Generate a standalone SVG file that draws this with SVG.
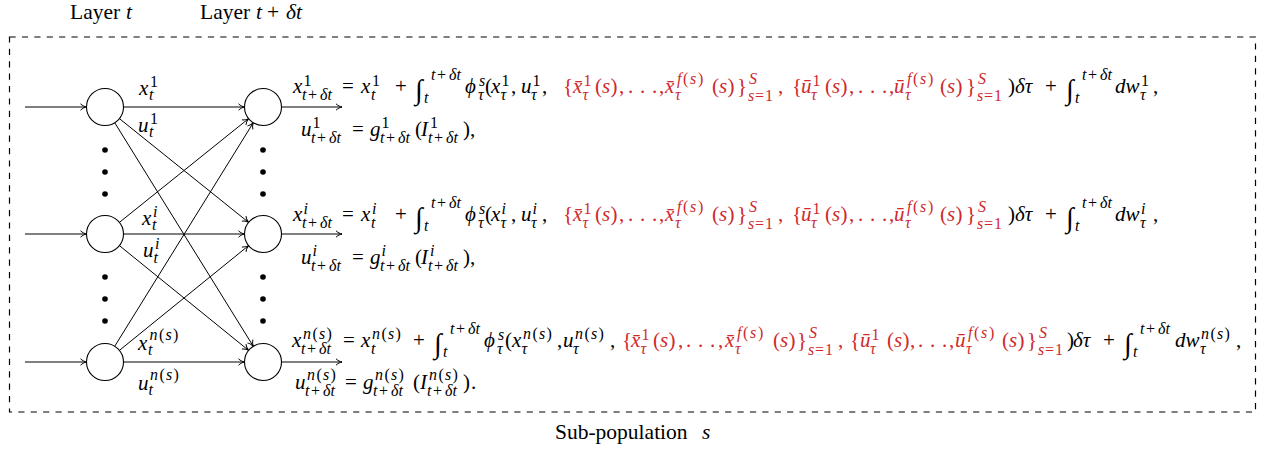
<svg xmlns="http://www.w3.org/2000/svg" width="1265" height="451" viewBox="0 0 1265 451">
<style>
text{font-family:'Liberation Serif','DejaVu Serif',serif;fill:#000}
.eq{font-size:21px}
.s{font-size:16px}
.i{font-style:italic}
.r{fill:#d0282c}
.int{font-size:28px}
.lbl{font-size:21.5px}
.ln{fill:none;stroke:#000;stroke-width:1}
.nd{fill:#fff;stroke:#000;stroke-width:1.1}
.dot{fill:#000}
.box{fill:none;stroke:#000;stroke-width:1.2;stroke-dasharray:6.2 6.2}
</style>
<defs>
<marker id="ar" markerUnits="userSpaceOnUse" viewBox="-8 -5 10 10" refX="0" refY="0" markerWidth="10" markerHeight="10" orient="auto" overflow="visible">
<path d="M-6,-3.2 C-4,-1.2 -1.5,-0.3 0,0 C-1.5,0.3 -4,1.2 -6,3.2" fill="none" stroke="#000" stroke-width="1"/>
</marker>
</defs>
<rect width="1265" height="451" fill="#fff"/>

<g id="layer-labels">
<text class="lbl" x="70" y="19">Layer <tspan class="i" x="126">t</tspan></text>
<text class="lbl" x="200" y="19">Layer <tspan class="i" x="256">t</tspan><tspan x="267">+</tspan><tspan class="i" x="286">δt</tspan></text>
</g>

<g id="subpopulation-box">
<rect class="box" x="9.5" y="37" width="1246" height="375"/>
<text class="lbl" x="555" y="439">Sub-population <tspan class="i" x="702">s</tspan></text>
</g>

<g id="connectors">
<line class="ln" x1="25" y1="107" x2="86.5" y2="107" marker-end="url(#ar)"/>
<line class="ln" x1="25" y1="234" x2="86.5" y2="234" marker-end="url(#ar)"/>
<line class="ln" x1="25" y1="362" x2="86.5" y2="362" marker-end="url(#ar)"/>
<line class="ln" x1="123.5" y1="107" x2="244.5" y2="107" marker-end="url(#ar)"/>
<line class="ln" x1="123.5" y1="234" x2="244.5" y2="234" marker-end="url(#ar)"/>
<line class="ln" x1="123.5" y1="362" x2="244.5" y2="362" marker-end="url(#ar)"/>
<line class="ln" x1="119.4" y1="118.6" x2="248.6" y2="222.4" marker-end="url(#ar)"/>
<line class="ln" x1="114.7" y1="122.7" x2="253.3" y2="346.3" marker-end="url(#ar)"/>
<line class="ln" x1="119.4" y1="222.4" x2="248.6" y2="118.6" marker-end="url(#ar)"/>
<line class="ln" x1="119.4" y1="245.6" x2="248.6" y2="350.4" marker-end="url(#ar)"/>
<line class="ln" x1="114.7" y1="346.3" x2="253.3" y2="122.7" marker-end="url(#ar)"/>
<line class="ln" x1="119.4" y1="350.4" x2="248.6" y2="245.6" marker-end="url(#ar)"/>
<line class="ln" x1="281.5" y1="107" x2="342" y2="107" marker-end="url(#ar)"/>
<line class="ln" x1="281.5" y1="234" x2="342" y2="234" marker-end="url(#ar)"/>
<line class="ln" x1="281.5" y1="362" x2="342" y2="362" marker-end="url(#ar)"/>
</g>

<g id="node-L1"><circle class="nd" cx="105" cy="107" r="18.5"/></g>
<g id="node-Li"><circle class="nd" cx="105" cy="234" r="18.5"/></g>
<g id="node-Ln"><circle class="nd" cx="105" cy="362" r="18.5"/></g>
<g id="node-R1"><circle class="nd" cx="263" cy="107" r="18.5"/></g>
<g id="node-Ri"><circle class="nd" cx="263" cy="234" r="18.5"/></g>
<g id="node-Rn"><circle class="nd" cx="263" cy="362" r="18.5"/></g>

<g id="dots">
<circle class="dot" cx="105" cy="150" r="2.8"/><circle class="dot" cx="105" cy="172" r="2.8"/><circle class="dot" cx="105" cy="194" r="2.8"/>
<circle class="dot" cx="105" cy="277" r="2.8"/><circle class="dot" cx="105" cy="299" r="2.8"/><circle class="dot" cx="105" cy="321" r="2.8"/>
<circle class="dot" cx="263" cy="150" r="2.8"/><circle class="dot" cx="263" cy="172" r="2.8"/><circle class="dot" cx="263" cy="194" r="2.8"/>
<circle class="dot" cx="263" cy="277" r="2.8"/><circle class="dot" cx="263" cy="299" r="2.8"/><circle class="dot" cx="263" cy="321" r="2.8"/>
</g>

<g id="edge-labels">
<text class="eq"><tspan class="i" x="139" y="95">x</tspan><tspan class="s" x="150" y="87">1</tspan><tspan class="s i" x="149" y="100">t</tspan></text>
<text class="eq"><tspan class="i" x="138" y="132">u</tspan><tspan class="s" x="150" y="124">1</tspan><tspan class="s i" x="149" y="137">t</tspan></text>
<text class="eq"><tspan class="i" x="142" y="225">x</tspan><tspan class="s i" x="153" y="217">i</tspan><tspan class="s i" x="152" y="230">t</tspan></text>
<text class="eq"><tspan class="i" x="143" y="257">u</tspan><tspan class="s i" x="155" y="249">i</tspan><tspan class="s i" x="153.5" y="263">t</tspan></text>
<text class="eq"><tspan class="i" x="138" y="350">x</tspan><tspan class="s i" x="149.5" y="340">n</tspan><tspan class="s" x="159" y="340">(</tspan><tspan class="s i" x="165.5" y="340">s</tspan><tspan class="s" x="173" y="340">)</tspan><tspan class="s i" x="148" y="355">t</tspan></text>
<text class="eq"><tspan class="i" x="138" y="390">u</tspan><tspan class="s i" x="150" y="380">n</tspan><tspan class="s" x="159.5" y="380">(</tspan><tspan class="s i" x="166" y="380">s</tspan><tspan class="s" x="173.5" y="380">)</tspan><tspan class="s i" x="148.5" y="395">t</tspan></text>
</g>

<g id="eq-1">
<text class="eq"><tspan class="i" x="293" y="93">x</tspan><tspan class="s" x="303.5" y="86">1</tspan><tspan class="s i" x="302" y="100">t</tspan><tspan class="s" x="308" y="100">+</tspan><tspan class="s i" x="320" y="100">δt</tspan><tspan x="342" y="93">=</tspan><tspan class="i" x="361" y="93">x</tspan><tspan class="s" x="372" y="86">1</tspan><tspan class="s i" x="371" y="100">t</tspan><tspan x="395" y="93">+</tspan><tspan class="int" x="415" y="99">∫</tspan><tspan class="s i" x="431" y="80">t</tspan><tspan class="s" x="437" y="80">+</tspan><tspan class="s i" x="449" y="80">δt</tspan><tspan class="s i" x="424" y="103">t</tspan><tspan class="i" x="465" y="93">ϕ</tspan><tspan class="s i" x="479" y="86">s</tspan><tspan class="s i" x="478" y="100">τ</tspan><tspan x="485" y="93">(</tspan><tspan class="i" x="491" y="93">x</tspan><tspan class="s" x="501.5" y="86">1</tspan><tspan class="s i" x="500.5" y="100">τ</tspan><tspan x="511" y="93">,</tspan><tspan class="i" x="521" y="93">u</tspan><tspan class="s" x="532.5" y="86">1</tspan><tspan class="s i" x="531" y="100">τ</tspan><tspan x="542" y="93">,</tspan><tspan class="r" x="563" y="93">{</tspan><tspan class="r i" x="573" y="93">x̄</tspan><tspan class="r s" x="583.5" y="86">1</tspan><tspan class="r s i" x="582.5" y="100">τ</tspan><tspan class="r" x="595" y="93">(</tspan><tspan class="r i" x="602" y="93">s</tspan><tspan class="r" x="610.5" y="93">)</tspan><tspan class="r" x="619" y="93">,</tspan><tspan class="r" x="628" y="93">.</tspan><tspan class="r" x="640" y="93">.</tspan><tspan class="r" x="652" y="93">.</tspan><tspan class="r" x="659" y="93">,</tspan><tspan class="r i" x="665" y="93">x̄</tspan><tspan class="r s i" x="677" y="84">f</tspan><tspan class="r s" x="683" y="84">(</tspan><tspan class="r s i" x="690" y="84">s</tspan><tspan class="r s" x="698" y="84">)</tspan><tspan class="r s i" x="675" y="100">τ</tspan><tspan class="r" x="712" y="93">(</tspan><tspan class="r i" x="719" y="93">s</tspan><tspan class="r" x="727.5" y="93">)</tspan><tspan class="r" x="737" y="93">}</tspan><tspan class="r s i" x="749" y="84">S</tspan><tspan class="r s i" x="748" y="101">s</tspan><tspan class="r s" x="755" y="101">=</tspan><tspan class="r s" x="765" y="101">1</tspan><tspan class="r" x="778" y="93">,</tspan><tspan class="r" x="792" y="93">{</tspan><tspan class="r i" x="801" y="93">ū</tspan><tspan class="r s" x="812.5" y="86">1</tspan><tspan class="r s i" x="811" y="100">τ</tspan><tspan class="r" x="825" y="93">(</tspan><tspan class="r i" x="832" y="93">s</tspan><tspan class="r" x="840.5" y="93">)</tspan><tspan class="r" x="849" y="93">,</tspan><tspan class="r" x="858" y="93">.</tspan><tspan class="r" x="870" y="93">.</tspan><tspan class="r" x="882" y="93">.</tspan><tspan class="r" x="889" y="93">,</tspan><tspan class="r i" x="894" y="93">ū</tspan><tspan class="r s i" x="907" y="84">f</tspan><tspan class="r s" x="913" y="84">(</tspan><tspan class="r s i" x="920" y="84">s</tspan><tspan class="r s" x="928" y="84">)</tspan><tspan class="r s i" x="905" y="100">τ</tspan><tspan class="r" x="940" y="93">(</tspan><tspan class="r i" x="947" y="93">s</tspan><tspan class="r" x="955.5" y="93">)</tspan><tspan class="r" x="966" y="93">}</tspan><tspan class="r s i" x="978" y="84">S</tspan><tspan class="r s i" x="977" y="101">s</tspan><tspan class="r s" x="984" y="101">=</tspan><tspan class="r s" x="994" y="101">1</tspan><tspan x="1008" y="93">)</tspan><tspan class="i" x="1015" y="93">δτ</tspan><tspan x="1045" y="93">+</tspan><tspan class="int" x="1066" y="99">∫</tspan><tspan class="s i" x="1082" y="80">t</tspan><tspan class="s" x="1088" y="80">+</tspan><tspan class="s i" x="1100" y="80">δt</tspan><tspan class="s i" x="1075" y="103">t</tspan><tspan class="i" x="1115" y="93">dw</tspan><tspan class="s" x="1141" y="86">1</tspan><tspan class="s i" x="1140" y="100">τ</tspan><tspan x="1153" y="93">,</tspan></text>
<text class="eq"><tspan class="i" x="301" y="136">u</tspan><tspan class="s" x="312.5" y="128">1</tspan><tspan class="s i" x="311" y="143">t</tspan><tspan class="s" x="317" y="143">+</tspan><tspan class="s i" x="329" y="143">δt</tspan><tspan x="352" y="136">=</tspan><tspan class="i" x="370" y="136">g</tspan><tspan class="s" x="381.5" y="128">1</tspan><tspan class="s i" x="380" y="143">t</tspan><tspan class="s" x="386" y="143">+</tspan><tspan class="s i" x="398" y="143">δt</tspan><tspan x="415" y="136">(</tspan><tspan class="i" x="421" y="136">I</tspan><tspan class="s" x="430" y="128">1</tspan><tspan class="s i" x="428" y="143">t</tspan><tspan class="s" x="434" y="143">+</tspan><tspan class="s i" x="446" y="143">δt</tspan><tspan x="463" y="136">)</tspan><tspan x="470" y="136">,</tspan></text>
</g>

<g id="eq-i" transform="translate(0,128)">
<text class="eq"><tspan class="i" x="293" y="93">x</tspan><tspan class="s i" x="303.5" y="86">i</tspan><tspan class="s i" x="302" y="100">t</tspan><tspan class="s" x="308" y="100">+</tspan><tspan class="s i" x="320" y="100">δt</tspan><tspan x="342" y="93">=</tspan><tspan class="i" x="361" y="93">x</tspan><tspan class="s i" x="372" y="86">i</tspan><tspan class="s i" x="371" y="100">t</tspan><tspan x="395" y="93">+</tspan><tspan class="int" x="415" y="99">∫</tspan><tspan class="s i" x="431" y="80">t</tspan><tspan class="s" x="437" y="80">+</tspan><tspan class="s i" x="449" y="80">δt</tspan><tspan class="s i" x="424" y="103">t</tspan><tspan class="i" x="465" y="93">ϕ</tspan><tspan class="s i" x="479" y="86">s</tspan><tspan class="s i" x="478" y="100">τ</tspan><tspan x="485" y="93">(</tspan><tspan class="i" x="491" y="93">x</tspan><tspan class="s i" x="501.5" y="86">i</tspan><tspan class="s i" x="500.5" y="100">τ</tspan><tspan x="511" y="93">,</tspan><tspan class="i" x="521" y="93">u</tspan><tspan class="s i" x="532.5" y="86">i</tspan><tspan class="s i" x="531" y="100">τ</tspan><tspan x="542" y="93">,</tspan><tspan class="r" x="563" y="93">{</tspan><tspan class="r i" x="573" y="93">x̄</tspan><tspan class="r s" x="583.5" y="86">1</tspan><tspan class="r s i" x="582.5" y="100">τ</tspan><tspan class="r" x="595" y="93">(</tspan><tspan class="r i" x="602" y="93">s</tspan><tspan class="r" x="610.5" y="93">)</tspan><tspan class="r" x="619" y="93">,</tspan><tspan class="r" x="628" y="93">.</tspan><tspan class="r" x="640" y="93">.</tspan><tspan class="r" x="652" y="93">.</tspan><tspan class="r" x="659" y="93">,</tspan><tspan class="r i" x="665" y="93">x̄</tspan><tspan class="r s i" x="677" y="84">f</tspan><tspan class="r s" x="683" y="84">(</tspan><tspan class="r s i" x="690" y="84">s</tspan><tspan class="r s" x="698" y="84">)</tspan><tspan class="r s i" x="675" y="100">τ</tspan><tspan class="r" x="712" y="93">(</tspan><tspan class="r i" x="719" y="93">s</tspan><tspan class="r" x="727.5" y="93">)</tspan><tspan class="r" x="737" y="93">}</tspan><tspan class="r s i" x="749" y="84">S</tspan><tspan class="r s i" x="748" y="101">s</tspan><tspan class="r s" x="755" y="101">=</tspan><tspan class="r s" x="765" y="101">1</tspan><tspan class="r" x="778" y="93">,</tspan><tspan class="r" x="792" y="93">{</tspan><tspan class="r i" x="801" y="93">ū</tspan><tspan class="r s" x="812.5" y="86">1</tspan><tspan class="r s i" x="811" y="100">τ</tspan><tspan class="r" x="825" y="93">(</tspan><tspan class="r i" x="832" y="93">s</tspan><tspan class="r" x="840.5" y="93">)</tspan><tspan class="r" x="849" y="93">,</tspan><tspan class="r" x="858" y="93">.</tspan><tspan class="r" x="870" y="93">.</tspan><tspan class="r" x="882" y="93">.</tspan><tspan class="r" x="889" y="93">,</tspan><tspan class="r i" x="894" y="93">ū</tspan><tspan class="r s i" x="907" y="84">f</tspan><tspan class="r s" x="913" y="84">(</tspan><tspan class="r s i" x="920" y="84">s</tspan><tspan class="r s" x="928" y="84">)</tspan><tspan class="r s i" x="905" y="100">τ</tspan><tspan class="r" x="940" y="93">(</tspan><tspan class="r i" x="947" y="93">s</tspan><tspan class="r" x="955.5" y="93">)</tspan><tspan class="r" x="966" y="93">}</tspan><tspan class="r s i" x="978" y="84">S</tspan><tspan class="r s i" x="977" y="101">s</tspan><tspan class="r s" x="984" y="101">=</tspan><tspan class="r s" x="994" y="101">1</tspan><tspan x="1008" y="93">)</tspan><tspan class="i" x="1015" y="93">δτ</tspan><tspan x="1045" y="93">+</tspan><tspan class="int" x="1066" y="99">∫</tspan><tspan class="s i" x="1082" y="80">t</tspan><tspan class="s" x="1088" y="80">+</tspan><tspan class="s i" x="1100" y="80">δt</tspan><tspan class="s i" x="1075" y="103">t</tspan><tspan class="i" x="1115" y="93">dw</tspan><tspan class="s i" x="1141" y="86">i</tspan><tspan class="s i" x="1140" y="100">τ</tspan><tspan x="1153" y="93">,</tspan></text>
<text class="eq"><tspan class="i" x="301" y="136">u</tspan><tspan class="s i" x="312.5" y="128">i</tspan><tspan class="s i" x="311" y="143">t</tspan><tspan class="s" x="317" y="143">+</tspan><tspan class="s i" x="329" y="143">δt</tspan><tspan x="352" y="136">=</tspan><tspan class="i" x="370" y="136">g</tspan><tspan class="s i" x="381.5" y="128">i</tspan><tspan class="s i" x="380" y="143">t</tspan><tspan class="s" x="386" y="143">+</tspan><tspan class="s i" x="398" y="143">δt</tspan><tspan x="415" y="136">(</tspan><tspan class="i" x="421" y="136">I</tspan><tspan class="s i" x="430" y="128">i</tspan><tspan class="s i" x="428" y="143">t</tspan><tspan class="s" x="434" y="143">+</tspan><tspan class="s i" x="446" y="143">δt</tspan><tspan x="463" y="136">)</tspan><tspan x="470" y="136">,</tspan></text>
</g>

<g id="eq-n">
<text class="eq"><tspan class="i" x="292" y="347">x</tspan><tspan class="s i" x="303" y="339">n</tspan><tspan class="s" x="312.5" y="339">(</tspan><tspan class="s i" x="319" y="339">s</tspan><tspan class="s" x="326.5" y="339">)</tspan><tspan class="s i" x="301" y="354">t</tspan><tspan class="s" x="307" y="354">+</tspan><tspan class="s i" x="319" y="354">δt</tspan><tspan x="343" y="347">=</tspan><tspan class="i" x="361" y="347">x</tspan><tspan class="s i" x="372" y="339">n</tspan><tspan class="s" x="381.5" y="339">(</tspan><tspan class="s i" x="388" y="339">s</tspan><tspan class="s" x="395.5" y="339">)</tspan><tspan class="s i" x="371" y="354">t</tspan><tspan x="413" y="347">+</tspan><tspan class="int" x="434" y="353">∫</tspan><tspan class="s i" x="450" y="334">t</tspan><tspan class="s" x="456" y="334">+</tspan><tspan class="s i" x="468" y="334">δt</tspan><tspan class="s i" x="443" y="357">t</tspan><tspan class="i" x="484" y="347">ϕ</tspan><tspan class="s i" x="498" y="340">s</tspan><tspan class="s i" x="497" y="354">τ</tspan><tspan x="505" y="347">(</tspan><tspan class="i" x="512" y="347">x</tspan><tspan class="s i" x="523" y="339">n</tspan><tspan class="s" x="532.5" y="339">(</tspan><tspan class="s i" x="539" y="339">s</tspan><tspan class="s" x="546.5" y="339">)</tspan><tspan class="s i" x="521.5" y="354">τ</tspan><tspan x="557" y="347">,</tspan><tspan class="i" x="563" y="347">u</tspan><tspan class="s i" x="575" y="339">n</tspan><tspan class="s" x="584.5" y="339">(</tspan><tspan class="s i" x="591" y="339">s</tspan><tspan class="s" x="598.5" y="339">)</tspan><tspan class="s i" x="573" y="354">τ</tspan><tspan x="610" y="347">,</tspan><tspan class="r" x="622" y="347">{</tspan><tspan class="r i" x="631" y="347">x̄</tspan><tspan class="r s" x="641.5" y="340">1</tspan><tspan class="r s i" x="640.5" y="354">τ</tspan><tspan class="r" x="653" y="347">(</tspan><tspan class="r i" x="660" y="347">s</tspan><tspan class="r" x="668.5" y="347">)</tspan><tspan class="r" x="678" y="347">,</tspan><tspan class="r" x="686" y="347">.</tspan><tspan class="r" x="698" y="347">.</tspan><tspan class="r" x="710" y="347">.</tspan><tspan class="r" x="718" y="347">,</tspan><tspan class="r i" x="725" y="347">x̄</tspan><tspan class="r s i" x="737" y="338">f</tspan><tspan class="r s" x="743" y="338">(</tspan><tspan class="r s i" x="750" y="338">s</tspan><tspan class="r s" x="758" y="338">)</tspan><tspan class="r s i" x="735" y="354">τ</tspan><tspan class="r" x="773" y="347">(</tspan><tspan class="r i" x="780" y="347">s</tspan><tspan class="r" x="788.5" y="347">)</tspan><tspan class="r" x="797" y="347">}</tspan><tspan class="r s i" x="809" y="338">S</tspan><tspan class="r s i" x="808" y="355">s</tspan><tspan class="r s" x="815" y="355">=</tspan><tspan class="r s" x="825" y="355">1</tspan><tspan class="r" x="838" y="347">,</tspan><tspan class="r" x="850" y="347">{</tspan><tspan class="r i" x="860" y="347">ū</tspan><tspan class="r s" x="871.5" y="340">1</tspan><tspan class="r s i" x="870" y="354">τ</tspan><tspan class="r" x="887" y="347">(</tspan><tspan class="r i" x="894" y="347">s</tspan><tspan class="r" x="902.5" y="347">)</tspan><tspan class="r" x="910" y="347">,</tspan><tspan class="r" x="918" y="347">.</tspan><tspan class="r" x="930" y="347">.</tspan><tspan class="r" x="942" y="347">.</tspan><tspan class="r" x="949" y="347">,</tspan><tspan class="r i" x="955" y="347">ū</tspan><tspan class="r s i" x="968" y="338">f</tspan><tspan class="r s" x="974" y="338">(</tspan><tspan class="r s i" x="981" y="338">s</tspan><tspan class="r s" x="989" y="338">)</tspan><tspan class="r s i" x="966" y="354">τ</tspan><tspan class="r" x="1002" y="347">(</tspan><tspan class="r i" x="1009" y="347">s</tspan><tspan class="r" x="1017.5" y="347">)</tspan><tspan class="r" x="1027" y="347">}</tspan><tspan class="r s i" x="1039" y="338">S</tspan><tspan class="r s i" x="1038" y="355">s</tspan><tspan class="r s" x="1045" y="355">=</tspan><tspan class="r s" x="1055" y="355">1</tspan><tspan x="1067" y="347">)</tspan><tspan class="i" x="1073" y="347">δτ</tspan><tspan x="1103" y="347">+</tspan><tspan class="int" x="1124" y="353">∫</tspan><tspan class="s i" x="1140" y="334">t</tspan><tspan class="s" x="1146" y="334">+</tspan><tspan class="s i" x="1158" y="334">δt</tspan><tspan class="s i" x="1133" y="357">t</tspan><tspan class="i" x="1175" y="347">dw</tspan><tspan class="s i" x="1201" y="339">n</tspan><tspan class="s" x="1210.5" y="339">(</tspan><tspan class="s i" x="1217" y="339">s</tspan><tspan class="s" x="1224.5" y="339">)</tspan><tspan class="s i" x="1200" y="354">τ</tspan><tspan x="1236" y="347">,</tspan></text>
<text class="eq"><tspan class="i" x="295" y="389">u</tspan><tspan class="s i" x="307" y="380">n</tspan><tspan class="s" x="316.5" y="380">(</tspan><tspan class="s i" x="323" y="380">s</tspan><tspan class="s" x="330.5" y="380">)</tspan><tspan class="s i" x="305" y="396">t</tspan><tspan class="s" x="311" y="396">+</tspan><tspan class="s i" x="323" y="396">δt</tspan><tspan x="345" y="389">=</tspan><tspan class="i" x="363" y="389">g</tspan><tspan class="s i" x="375" y="380">n</tspan><tspan class="s" x="384.5" y="380">(</tspan><tspan class="s i" x="391" y="380">s</tspan><tspan class="s" x="398.5" y="380">)</tspan><tspan class="s i" x="373" y="396">t</tspan><tspan class="s" x="379" y="396">+</tspan><tspan class="s i" x="391" y="396">δt</tspan><tspan x="413" y="389">(</tspan><tspan class="i" x="420" y="389">I</tspan><tspan class="s i" x="429" y="380">n</tspan><tspan class="s" x="438.5" y="380">(</tspan><tspan class="s i" x="445" y="380">s</tspan><tspan class="s" x="452.5" y="380">)</tspan><tspan class="s i" x="427" y="396">t</tspan><tspan class="s" x="433" y="396">+</tspan><tspan class="s i" x="445" y="396">δt</tspan><tspan x="463" y="389">)</tspan><tspan x="471" y="389">.</tspan></text>
</g>
</svg>
